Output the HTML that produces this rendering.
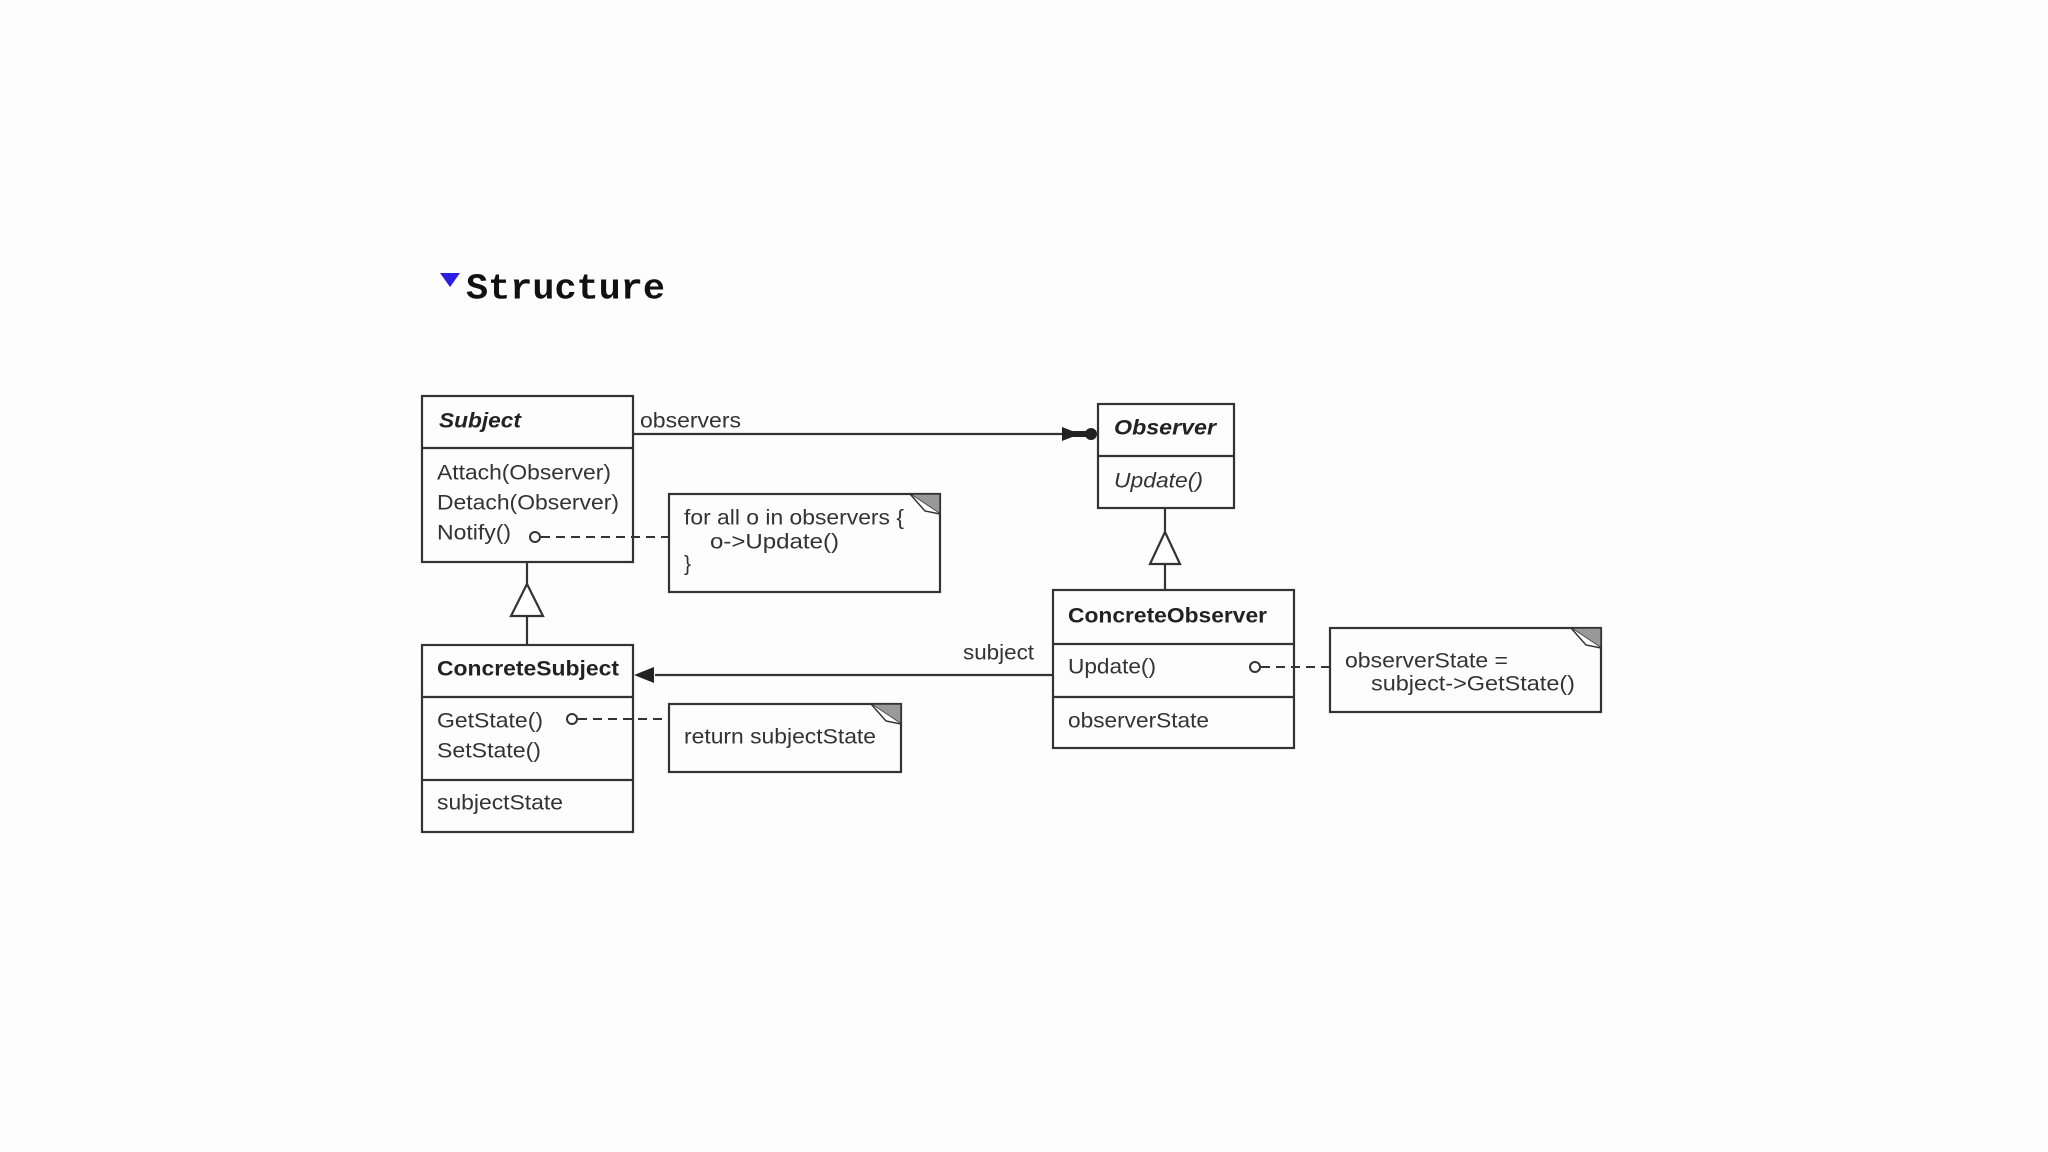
<!DOCTYPE html>
<html><head><meta charset="utf-8"><style>
html,body{margin:0;padding:0;background:#fdfdfd;}
svg{display:block}
text{font-family:"Liberation Sans",sans-serif;font-size:21px;fill:#333;dominant-baseline:central}
.b{font-weight:bold;fill:#222}
.i{font-style:italic}
</style></head><body>
<svg width="2048" height="1152" viewBox="0 0 2048 1152" xmlns="http://www.w3.org/2000/svg">
<rect width="2048" height="1152" fill="#fdfdfd"/>
<polygon points="440,273 460,273 450,287" fill="#2a1ee0"/>
<text x="466" y="289" style="font-family:'Liberation Mono',monospace;font-size:36px;font-weight:bold;fill:#111" textLength="199" lengthAdjust="spacingAndGlyphs">Structure</text>
<g fill="none" stroke="#333" stroke-width="2.2">
<rect x="422" y="396" width="211" height="166"/><line x1="422" y1="448" x2="633" y2="448"/>
<rect x="1098" y="404" width="136" height="104"/><line x1="1098" y1="456" x2="1234" y2="456"/>
<rect x="422" y="645" width="211" height="187"/><line x1="422" y1="697" x2="633" y2="697"/><line x1="422" y1="780" x2="633" y2="780"/>
<rect x="1053" y="590" width="241" height="158"/><line x1="1053" y1="644" x2="1294" y2="644"/><line x1="1053" y1="697" x2="1294" y2="697"/>
<line x1="633" y1="434" x2="1064" y2="434"/>
<line x1="655" y1="675" x2="1053" y2="675"/>
<line x1="527" y1="562" x2="527" y2="584"/><line x1="527" y1="616" x2="527" y2="645"/>
<polygon points="527,584 511,616 543,616" fill="#fff"/>
<line x1="1165" y1="508" x2="1165" y2="532"/><line x1="1165" y1="564" x2="1165" y2="590"/>
<polygon points="1165,532 1150,564 1180,564" fill="#fff"/>
<rect x="669" y="494" width="271" height="98"/>
<rect x="669" y="704" width="232" height="68"/>
<rect x="1330" y="628" width="271" height="84"/>
</g>
<g stroke="#333" stroke-width="2" stroke-dasharray="9,6" fill="none">
<line x1="541" y1="537" x2="669" y2="537"/>
<line x1="578" y1="719" x2="669" y2="719"/>
<line x1="1261" y1="667" x2="1330" y2="667"/>
</g>
<g fill="#fff" stroke="#333" stroke-width="2">
<circle cx="535" cy="537" r="5"/><circle cx="572" cy="719" r="5"/><circle cx="1255" cy="667" r="5"/>
</g>
<g fill="#222">
<polygon points="1062,427 1062,441 1080,434"/><rect x="1062" y="431" width="26" height="6"/><circle cx="1091" cy="434" r="6"/>
<polygon points="634,675 654,667 654,683"/>
</g>
<g stroke="#333" stroke-width="1.5">
<polygon points="910,494 940,494 940,514" fill="#999"/><polyline points="910,494 925,511 940,514" fill="#fff"/>
<polygon points="871,704 901,704 901,724" fill="#999"/><polyline points="871,704 886,721 901,724" fill="#fff"/>
<polygon points="1571,628 1601,628 1601,648" fill="#999"/><polyline points="1571,628 1586,645 1601,648" fill="#fff"/>
</g>
<text x="439" y="421" class="b i" textLength="82" lengthAdjust="spacingAndGlyphs">Subject</text>
<text x="437" y="473" textLength="174" lengthAdjust="spacingAndGlyphs">Attach(Observer)</text>
<text x="437" y="503" textLength="182" lengthAdjust="spacingAndGlyphs">Detach(Observer)</text>
<text x="437" y="533" textLength="74" lengthAdjust="spacingAndGlyphs">Notify()</text>
<text x="640" y="421" textLength="101" lengthAdjust="spacingAndGlyphs">observers</text>
<text x="684" y="518" textLength="220" lengthAdjust="spacingAndGlyphs">for all o in observers {</text>
<text x="710" y="542" textLength="129" lengthAdjust="spacingAndGlyphs">o-&gt;Update()</text>
<text x="684" y="564">}</text>
<text x="437" y="669" class="b" textLength="182" lengthAdjust="spacingAndGlyphs">ConcreteSubject</text>
<text x="437" y="721" textLength="106" lengthAdjust="spacingAndGlyphs">GetState()</text>
<text x="437" y="751" textLength="104" lengthAdjust="spacingAndGlyphs">SetState()</text>
<text x="437" y="803" textLength="126" lengthAdjust="spacingAndGlyphs">subjectState</text>
<text x="684" y="737" textLength="192" lengthAdjust="spacingAndGlyphs">return subjectState</text>
<text x="963" y="653" textLength="71" lengthAdjust="spacingAndGlyphs">subject</text>
<text x="1114" y="428" class="b i" textLength="102" lengthAdjust="spacingAndGlyphs">Observer</text>
<text x="1114" y="481" class="i" textLength="89" lengthAdjust="spacingAndGlyphs">Update()</text>
<text x="1068" y="616" class="b" textLength="199" lengthAdjust="spacingAndGlyphs">ConcreteObserver</text>
<text x="1068" y="667" textLength="88" lengthAdjust="spacingAndGlyphs">Update()</text>
<text x="1068" y="721" textLength="141" lengthAdjust="spacingAndGlyphs">observerState</text>
<text x="1345" y="661" textLength="163" lengthAdjust="spacingAndGlyphs">observerState =</text>
<text x="1371" y="684" textLength="204" lengthAdjust="spacingAndGlyphs">subject-&gt;GetState()</text>
</svg>
</body></html>
